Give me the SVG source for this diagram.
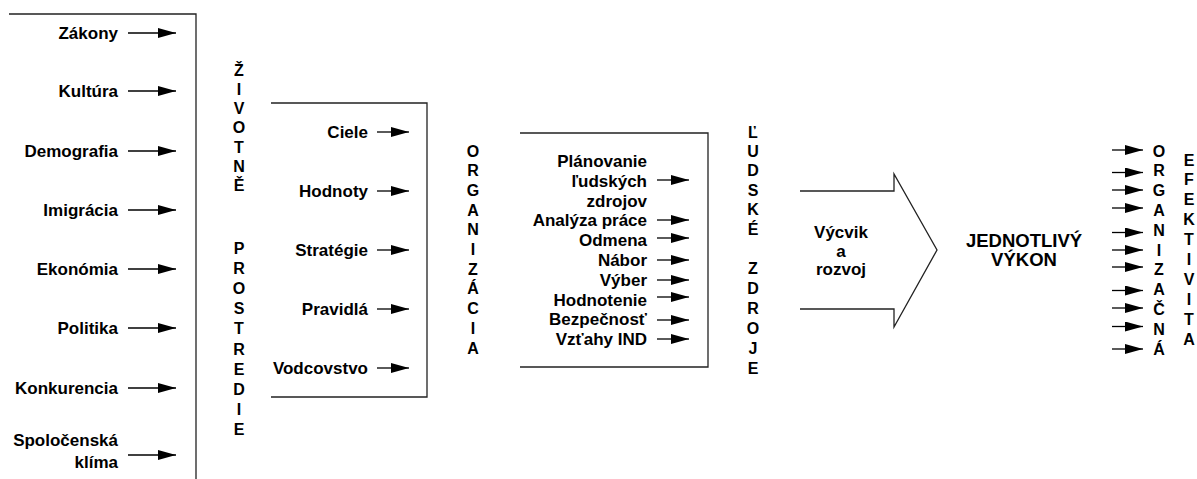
<svg xmlns="http://www.w3.org/2000/svg" width="1197" height="479" viewBox="0 0 1197 479">
  <style>
    .lbl { font-family: "Liberation Sans", Arial, sans-serif; font-weight: bold; font-size: 17px; fill: #000; text-anchor: end; }
    .mid { font-family: "Liberation Sans", Arial, sans-serif; font-weight: bold; font-size: 17px; fill: #000; text-anchor: middle; }
    .big { font-family: "Liberation Sans", Arial, sans-serif; font-weight: bold; font-size: 18.5px; fill: #000; text-anchor: middle; }
    .col { font-family: "Liberation Sans", Arial, sans-serif; font-weight: bold; font-size: 16px; fill: #000; text-anchor: middle; }
    .frame { stroke: #222; stroke-width: 1.3; fill: none; }
    .arr { stroke: #000; stroke-width: 1.3; fill: none; marker-end: url(#head); }
  </style>
  <defs>
    <marker id="head" viewBox="0 0 18 10" markerWidth="18" markerHeight="10" refX="18" refY="5" markerUnits="userSpaceOnUse" orient="auto">
      <path d="M0,0 L18,5 L0,10 z" fill="#000"/>
    </marker>
  </defs>

  <rect width="1197" height="479" fill="#fff"/>

  <!-- environment factors -->
  <g id="environment">
    <path class="frame" d="M9,14 H196 V479"/>
    <text class="lbl" x="118" y="39">Zákony</text>
    <text class="lbl" x="118" y="97">Kultúra</text>
    <text class="lbl" x="118" y="157">Demografia</text>
    <text class="lbl" x="118" y="216">Imigrácia</text>
    <text class="lbl" x="118" y="275">Ekonómia</text>
    <text class="lbl" x="118" y="334">Politika</text>
    <text class="lbl" x="118" y="394">Konkurencia</text>
    <text class="lbl" x="118" y="446">Spoločenská</text>
    <text class="lbl" x="118" y="468">klíma</text>
  </g>

  <!-- vertical caption: ŽIVOTNÉ PROSTREDIE -->
  <g id="environment-caption">
    <text class="col" x="239" y="75.5">Ž</text>
    <text class="col" x="239" y="94.8">I</text>
    <text class="col" x="239" y="114.1">V</text>
    <text class="col" x="239" y="133.4">O</text>
    <text class="col" x="239" y="152.7">T</text>
    <text class="col" x="239" y="172">N</text>
    <text class="col" x="239" y="191.3">Ě</text>
    <text class="col" x="239" y="253.5">P</text>
    <text class="col" x="239" y="273.7">R</text>
    <text class="col" x="239" y="293.9">O</text>
    <text class="col" x="239" y="314.1">S</text>
    <text class="col" x="239" y="334.3">T</text>
    <text class="col" x="239" y="354.5">R</text>
    <text class="col" x="239" y="374.7">E</text>
    <text class="col" x="239" y="394.9">D</text>
    <text class="col" x="239" y="415.1">I</text>
    <text class="col" x="239" y="435.3">E</text>
  </g>

  <!-- organisation factors -->
  <g id="organization">
    <path class="frame" d="M271,103 H427 V397 H271"/>
    <text class="lbl" x="368" y="138">Ciele</text>
    <text class="lbl" x="368" y="197">Hodnoty</text>
    <text class="lbl" x="368" y="256">Stratégie</text>
    <text class="lbl" x="368" y="315">Pravidlá</text>
    <text class="lbl" x="368" y="374">Vodcovstvo</text>
  </g>

  <g id="organization-caption">
    <text class="col" x="473" y="156.5">O</text>
    <text class="col" x="473" y="176.2">R</text>
    <text class="col" x="473" y="195.9">G</text>
    <text class="col" x="473" y="215.6">A</text>
    <text class="col" x="473" y="235.3">N</text>
    <text class="col" x="473" y="255">I</text>
    <text class="col" x="473" y="274.7">Z</text>
    <text class="col" x="473" y="294.4">Á</text>
    <text class="col" x="473" y="314.1">C</text>
    <text class="col" x="473" y="333.8">I</text>
    <text class="col" x="473" y="353.5">A</text>
  </g>

  <!-- HR activities -->
  <g id="hr-activities">
    <path class="frame" d="M520,133 H708 V367 H520"/>
    <text class="lbl" x="647" y="167">Plánovanie</text>
    <text class="lbl" x="647" y="186.8">ľudských</text>
    <text class="lbl" x="647" y="206.6">zdrojov</text>
    <text class="lbl" x="647" y="226.4">Analýza práce</text>
    <text class="lbl" x="647" y="246.2">Odmena</text>
    <text class="lbl" x="647" y="266">Nábor</text>
    <text class="lbl" x="647" y="285.8">Výber</text>
    <text class="lbl" x="647" y="305.6">Hodnotenie</text>
    <text class="lbl" x="647" y="325.4">Bezpečnosť</text>
    <text class="lbl" x="647" y="345.2">Vzťahy IND</text>
  </g>

  <g id="hr-caption">
    <text class="col" x="753" y="137.5">Ľ</text>
    <text class="col" x="753" y="156.9">U</text>
    <text class="col" x="753" y="176.3">D</text>
    <text class="col" x="753" y="195.7">S</text>
    <text class="col" x="753" y="215.1">K</text>
    <text class="col" x="753" y="234.5">É</text>
    <text class="col" x="753" y="273.5">Z</text>
    <text class="col" x="753" y="293.5">D</text>
    <text class="col" x="753" y="313.5">R</text>
    <text class="col" x="753" y="333.5">O</text>
    <text class="col" x="753" y="353.5">J</text>
    <text class="col" x="753" y="373.5">E</text>
  </g>

  <!-- training block arrow -->
  <g id="training">
    <path class="frame" d="M800,191 H894 V174 L937,250 L894,327 V309 H800"/>
    <text class="mid" x="841" y="237.5">Výcvik</text>
    <text class="mid" x="841" y="256.5">a</text>
    <text class="mid" x="841" y="274.5">rozvoj</text>
  </g>

  <g id="performance">
    <text class="big" x="1024" y="246.5">JEDNOTLIVÝ</text>
    <text class="big" x="1024" y="265.5">VÝKON</text>
  </g>

  <g id="outcome-caption">
    <text class="col" x="1159" y="156.5">O</text>
    <text class="col" x="1159" y="176.3">R</text>
    <text class="col" x="1159" y="196.1">G</text>
    <text class="col" x="1159" y="215.9">A</text>
    <text class="col" x="1159" y="235.7">N</text>
    <text class="col" x="1159" y="255.5">I</text>
    <text class="col" x="1159" y="275.3">Z</text>
    <text class="col" x="1159" y="295.1">A</text>
    <text class="col" x="1159" y="314.9">Č</text>
    <text class="col" x="1159" y="334.7">N</text>
    <text class="col" x="1159" y="354.5">Á</text>
    <text class="col" x="1189" y="165.5">E</text>
    <text class="col" x="1189" y="185.4">F</text>
    <text class="col" x="1189" y="205.3">E</text>
    <text class="col" x="1189" y="225.2">K</text>
    <text class="col" x="1189" y="245.1">T</text>
    <text class="col" x="1189" y="265">I</text>
    <text class="col" x="1189" y="284.9">V</text>
    <text class="col" x="1189" y="304.8">I</text>
    <text class="col" x="1189" y="324.7">T</text>
    <text class="col" x="1189" y="344.6">A</text>
  </g>

  <!-- connectors -->
  <g id="connectors">
    <line class="arr" x1="128" y1="33" x2="176" y2="33"/>
    <line class="arr" x1="128" y1="91" x2="176" y2="91"/>
    <line class="arr" x1="128" y1="151" x2="176" y2="151"/>
    <line class="arr" x1="128" y1="210" x2="176" y2="210"/>
    <line class="arr" x1="128" y1="269" x2="176" y2="269"/>
    <line class="arr" x1="128" y1="328" x2="176" y2="328"/>
    <line class="arr" x1="128" y1="388" x2="176" y2="388"/>
    <line class="arr" x1="128" y1="455" x2="176" y2="455"/>

    <line class="arr" x1="377" y1="132" x2="409" y2="132"/>
    <line class="arr" x1="377" y1="191" x2="409" y2="191"/>
    <line class="arr" x1="377" y1="250" x2="409" y2="250"/>
    <line class="arr" x1="377" y1="309" x2="409" y2="309"/>
    <line class="arr" x1="377" y1="368" x2="409" y2="368"/>

    <line class="arr" x1="657" y1="180" x2="689" y2="180"/>
    <line class="arr" x1="657" y1="220" x2="689" y2="220"/>
    <line class="arr" x1="657" y1="238" x2="689" y2="238"/>
    <line class="arr" x1="657" y1="260" x2="689" y2="260"/>
    <line class="arr" x1="657" y1="280" x2="689" y2="280"/>
    <line class="arr" x1="657" y1="297" x2="689" y2="297"/>
    <line class="arr" x1="657" y1="320" x2="689" y2="320"/>
    <line class="arr" x1="657" y1="339" x2="689" y2="339"/>

    <line class="arr" x1="1112" y1="150" x2="1143" y2="150"/>
    <line class="arr" x1="1112" y1="172.5" x2="1143" y2="172.5"/>
    <line class="arr" x1="1112" y1="190" x2="1143" y2="190"/>
    <line class="arr" x1="1112" y1="208" x2="1143" y2="208"/>
    <line class="arr" x1="1112" y1="232.5" x2="1143" y2="232.5"/>
    <line class="arr" x1="1112" y1="250" x2="1143" y2="250"/>
    <line class="arr" x1="1112" y1="267" x2="1143" y2="267"/>
    <line class="arr" x1="1112" y1="290.5" x2="1143" y2="290.5"/>
    <line class="arr" x1="1112" y1="308" x2="1143" y2="308"/>
    <line class="arr" x1="1112" y1="326.5" x2="1143" y2="326.5"/>
    <line class="arr" x1="1112" y1="349" x2="1143" y2="349"/>
  </g>
</svg>
